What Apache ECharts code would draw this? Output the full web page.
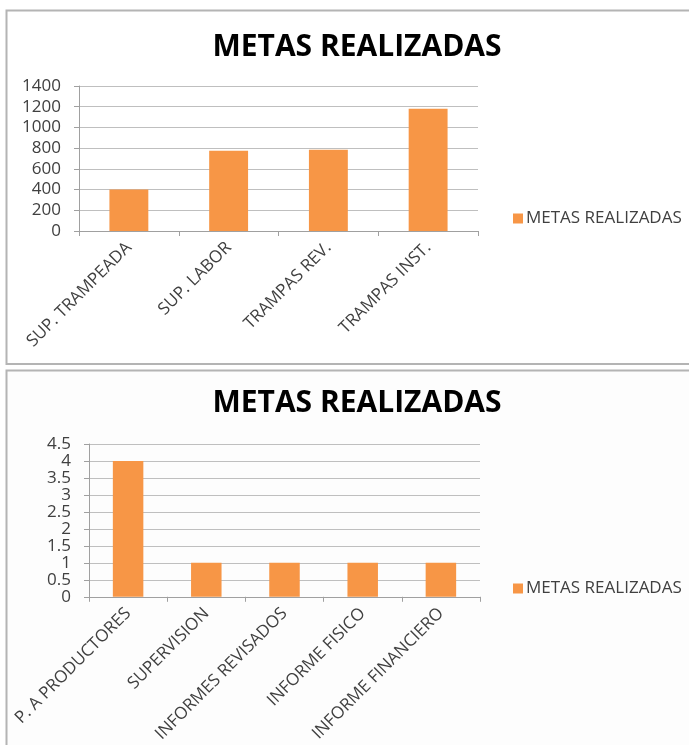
<!DOCTYPE html>
<html><head><meta charset="utf-8">
<script src="https://cdn.jsdelivr.net/npm/echarts@6/dist/echarts.min.js"></script>
<style>html,body{margin:0;padding:0;background:#fff}#c{width:689px;height:745px}</style>
</head><body><div id="c"></div>
<script>
const titleText = 'METAS REALIZADAS';
const seriesName = 'METAS REALIZADAS';
const categories1 = ['SUP. TRAMPEADA', 'SUP. LABOR', 'TRAMPAS REV.', 'TRAMPAS INST.'];
const values1 = [400, 775, 785, 1180];
const categories2 = ['P. A PRODUCTORES', 'SUPERVISION', 'INFORMES REVISADOS', 'INFORME FISICO', 'INFORME FINANCIERO'];
const values2 = [4, 1, 1, 1, 1];

const FONT = '"Open Sans", sans-serif';
const BAR = '#F79646';
const TXT = '#404040';
const chart = echarts.init(document.getElementById('c'), null, {renderer: 'canvas'});

function xAxisCfg(cats, idx) {
  return {
    type: 'category', gridIndex: idx, data: cats,
    axisLine: {lineStyle: {color: '#a0a0a0', width: 1}},
    axisTick: {show: true, length: 5, lineStyle: {color: '#a0a0a0'}},
    axisLabel: {rotate: 45, margin: 14, color: TXT, fontFamily: FONT, fontSize: 17, interval: 0}
  };
}
function yAxisCfg(max, interval, idx) {
  return {
    type: 'value', gridIndex: idx, min: 0, max: max, interval: interval,
    axisLine: {show: true, lineStyle: {color: '#a0a0a0'}},
    axisTick: {show: true, length: 5, lineStyle: {color: '#a0a0a0'}},
    splitLine: {lineStyle: {color: '#bfbfbf'}},
    axisLabel: {margin: 18, color: TXT, fontFamily: FONT, fontSize: 17,
      formatter: function(v){ return String(v); }}
  };
}

chart.setOption({
  animation: false,
  backgroundColor: '#ffffff',
  graphic: [
    {type: 'rect', shape: {x: 6.5, y: 10.5, width: 700, height: 353.5}, style: {fill: '#ffffff', stroke: '#b4b4b4', lineWidth: 2}, z: -10},
    {type: 'rect', shape: {x: 6.5, y: 370.5, width: 700, height: 400}, style: {fill: '#fdfdfd', stroke: '#b4b4b4', lineWidth: 2}, z: -10}
  ],
  title: [
    {text: titleText, left: 352, textAlign: 'center', top: 27, textStyle: {fontFamily: FONT, fontWeight: 'bold', fontSize: 30, color: '#000'}},
    {text: titleText, left: 352, textAlign: 'center', top: 383, textStyle: {fontFamily: FONT, fontWeight: 'bold', fontSize: 30, color: '#000'}}
  ],
  legend: [
    {data: [seriesName], left: 508, top: 205, itemWidth: 10, itemHeight: 10, itemGap: 7, icon: 'rect',
     textStyle: {fontFamily: FONT, fontSize: 17, color: TXT, padding: [0, 0, 0, -2]}},
    {data: [{name: seriesName + ' ', icon: 'rect'}], left: 508, top: 575, itemWidth: 10, itemHeight: 10, itemGap: 7,
     formatter: function(){ return seriesName; },
     textStyle: {fontFamily: FONT, fontSize: 17, color: TXT, padding: [0, 0, 0, -2]}}
  ],
  grid: [
    {left: 79, right: 211, top: 86, bottom: 514},
    {left: 89, right: 209, top: 444, bottom: 147}
  ],
  xAxis: [xAxisCfg(categories1, 0), xAxisCfg(categories2, 1)],
  yAxis: [yAxisCfg(1400, 200, 0), yAxisCfg(4.5, 0.5, 1)],
  series: [
    {name: seriesName, type: 'bar', xAxisIndex: 0, yAxisIndex: 0, data: values1, barWidth: '39%', itemStyle: {color: BAR}},
    {name: seriesName + ' ', type: 'bar', xAxisIndex: 1, yAxisIndex: 1, data: values2, barWidth: '39%', itemStyle: {color: BAR}}
  ]
});
</script></body></html>
